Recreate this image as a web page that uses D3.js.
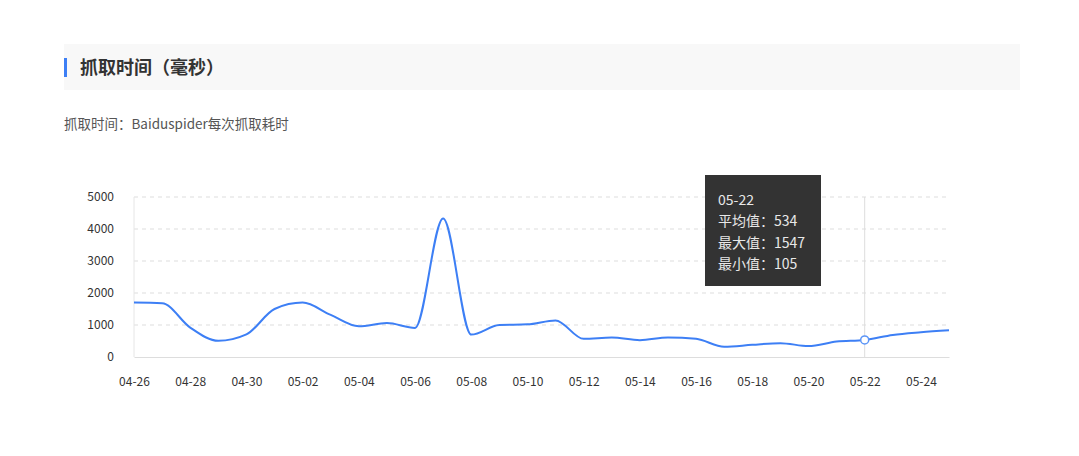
<!DOCTYPE html>
<html>
<head>
<meta charset="utf-8">
<script src="https://cdn.jsdelivr.net/npm/d3@7"></script>
<style>
  body { margin: 0; background: #fff; font-family: "Noto Sans CJK SC", "Noto Sans", sans-serif; }
  svg { display: block; }
</style>
</head>
<body>
<svg id="chart" width="1079" height="456"></svg>
<script>
var dates = ['04-26','04-27','04-28','04-29','04-30','05-01','05-02','05-03','05-04','05-05',
             '05-06','05-07','05-08','05-09','05-10','05-11','05-12','05-13','05-14','05-15',
             '05-16','05-17','05-18','05-19','05-20','05-21','05-22','05-23','05-24','05-25'];
var avgValues = [1700, 1680, 920, 505, 705, 1500, 1700, 1315, 958, 1060,
                 907, 4330, 700, 1000, 1020, 1144, 567, 608, 526, 608,
                 567, 320, 381, 433, 340, 485, 534, 690, 773, 835];
var yTicks = [0, 1000, 2000, 3000, 4000, 5000];
var xTickLabels = dates.filter(function(d, i) { return i % 2 === 0; });
var tipIndex = 26;
var tipMax = 1547, tipMin = 105;

var svg = d3.select('#chart');

// title block
svg.append('rect').attr('x', 64).attr('y', 44).attr('width', 956).attr('height', 46).attr('fill', '#f8f8f8');
svg.append('rect').attr('x', 64).attr('y', 58).attr('width', 3).attr('height', 19).attr('fill', '#3d7ff5');
svg.append('text').attr('x', 80).attr('y', 74)
    .attr('font-size', 18).attr('font-weight', 'bold').attr('fill', '#333')
    .text('抓取时间（毫秒）');
svg.append('text').attr('x', 64).attr('y', 129)
    .attr('font-size', 13.5).attr('fill', '#555')
    .text('抓取时间：Baiduspider每次抓取耗时');

var x = d3.scalePoint().domain(dates).range([134, 949]);
var y = d3.scaleLinear().domain([0, 5000]).range([357, 197]);

// grid
svg.append('g').selectAll('line').data(yTicks.filter(function(d) { return d > 0; }))
    .enter().append('line')
    .attr('x1', 134).attr('x2', 949)
    .attr('y1', function(d) { return y(d); }).attr('y2', function(d) { return y(d); })
    .attr('stroke', '#ddd').attr('stroke-dasharray', '4,4');

// y axis line
svg.append('line').attr('x1', 134).attr('x2', 134).attr('y1', 197).attr('y2', 357).attr('stroke', '#e6e6e6');

var yAxis = svg.append('g').attr('transform', 'translate(134,0)')
    .call(d3.axisLeft(y).tickValues(yTicks).tickFormat(d3.format('d')).tickSize(0).tickPadding(20));
yAxis.select('.domain').remove();
yAxis.selectAll('text').attr('font-size', 12).attr('fill', '#333').attr('font-family', '"Noto Sans CJK SC", sans-serif');

var xAxis = svg.append('g').attr('transform', 'translate(0,357)')
    .call(d3.axisBottom(x).tickValues(xTickLabels).tickSize(0).tickPadding(20));
xAxis.select('.domain').attr('stroke', '#ddd');
xAxis.selectAll('text').attr('font-size', 12).attr('fill', '#333').attr('font-family', '"Noto Sans CJK SC", sans-serif');

// tooltip guide line
var tx = x(dates[tipIndex]);
svg.append('line').attr('x1', tx).attr('x2', tx).attr('y1', 197).attr('y2', 357).attr('stroke', '#ddd');

var line = d3.line()
    .x(function(d, i) { return x(dates[i]); })
    .y(function(d) { return y(d); })
    .curve(d3.curveMonotoneX);

svg.append('path').datum(avgValues)
    .attr('d', line)
    .attr('fill', 'none')
    .attr('stroke', '#3d7ff5')
    .attr('stroke-width', 2);

svg.append('circle').attr('cx', tx).attr('cy', y(avgValues[tipIndex])).attr('r', 4)
    .attr('fill', '#fff').attr('stroke', '#5b95f7').attr('stroke-width', 1.5);

// tooltip
var tip = svg.append('g').attr('transform', 'translate(705,175)');
tip.append('rect').attr('width', 116).attr('height', 111).attr('fill', 'rgba(40,40,40,0.95)');
var tipLines = [dates[tipIndex], '平均值：' + avgValues[tipIndex], '最大值：' + tipMax, '最小值：' + tipMin];
tip.selectAll('text').data(tipLines).enter().append('text')
    .attr('x', 13).attr('y', function(d, i) { return 30 + i * 21.3; })
    .attr('font-size', 14).attr('fill', '#e8e8e8')
    .text(function(d) { return d; });
</script>
</body>
</html>
